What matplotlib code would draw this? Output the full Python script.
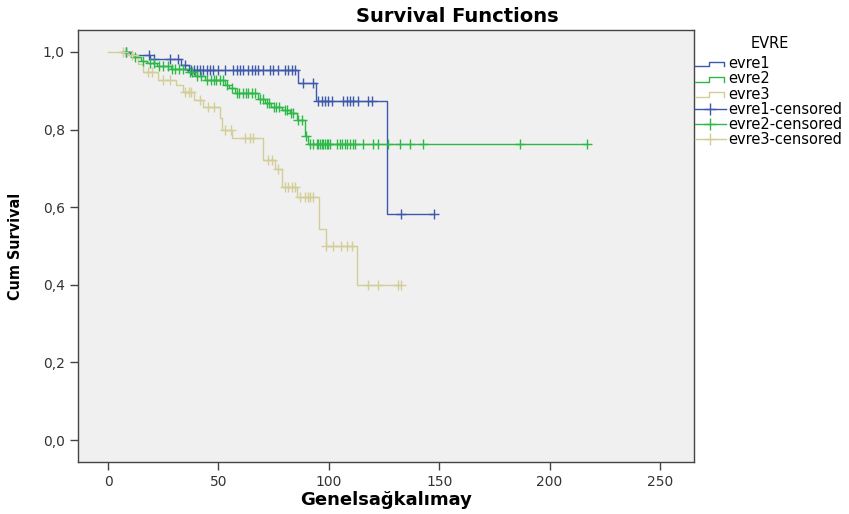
import numpy as np
import matplotlib
matplotlib.use('Agg')
import matplotlib.pyplot as plt
from matplotlib.lines import Line2D
from matplotlib.legend_handler import HandlerBase
from matplotlib.ticker import FuncFormatter

# Kaplan-Meier steps per stage: time of each step and survival after it
evre1_t = [7.5, 10, 19, 33, 36.5, 86, 94.3, 126.5]
evre1_s = [1.0, 0.993, 0.981, 0.966, 0.954, 0.920, 0.873, 0.583]
evre1_cens = [8, 18.5, 21, 28, 31.5, 35, 37.8, 39, 40.1, 41.7, 43, 44.7, 46.2,
              47.6, 49.8, 53, 56.6, 58.3, 59.8, 61.1, 63.4, 65.1, 66.6, 68,
              70.2, 73.3, 74.7, 77, 80.2, 81.5, 83.2, 84.5, 88.3, 92.8, 95.3,
              96.8, 98.3, 99.8, 101.3, 106.6, 108.1, 109.6, 111.1, 113.4,
              117.9, 119.4, 132.7, 147.6]

evre2_t = [7, 11, 15, 17.5, 22, 28.7, 36, 39.4, 44, 53, 55, 57.5, 68, 71, 74,
           79, 82.4, 85.6, 89.2, 90.7]
evre2_s = [1.0, 0.987, 0.978, 0.971, 0.964, 0.955, 0.948, 0.937, 0.928, 0.915,
           0.906, 0.895, 0.880, 0.868, 0.859, 0.850, 0.842, 0.825, 0.784, 0.762]
evre2_cens = [8, 12, 16, 19, 21, 23, 25, 27, 29, 30.5, 32, 34, 37, 38, 40.5,
              42, 45, 46.5, 48, 49, 50.5, 52, 54, 56, 58.5, 59.5, 61, 62.5,
              63.5, 65, 66.5, 69, 70, 72, 73, 75, 76, 77.5, 80, 81, 83, 84, 86,
              88, 89.5, 91.5, 93, 94.5, 95.3, 96, 96.8, 97.5, 98.3, 99, 99.8,
              100.5, 103.6, 105.1, 105.8, 107.4, 108.2, 109.6, 111.1, 111.9,
              115.6, 120.1, 122.4, 126.9, 132.2, 136.8, 142.8, 186.6, 216.8]

evre3_t = [0, 9, 13.5, 16, 22.5, 31, 34, 39, 43, 50.7, 51.8, 56, 70.2, 75.6,
           78.7, 85.8, 95.6, 98.7, 112.6]
evre3_s = [1.0, 0.992, 0.970, 0.949, 0.928, 0.915, 0.898, 0.876, 0.859, 0.830,
           0.800, 0.778, 0.722, 0.698, 0.653, 0.625, 0.543, 0.500, 0.400]
evre3_cens = [7, 11, 18, 20, 25, 28, 35, 36.5, 37.5, 41.7, 45.3, 48, 53, 55.5,
              62, 64.3, 65.7, 72.5, 74.3, 77, 80.2, 81.5, 83.3, 84.7, 87, 89.2,
              90.6, 91.5, 92.9, 98.9, 101.9, 105.4, 108.1, 110.3, 117.8, 122.3,
              131.3, 132.6]

groups = ['evre1', 'evre2', 'evre3']
colors = ['#3E58AC', '#2EB848', '#D3CE97']
x_ticks = [0, 50, 100, 150, 200, 250]
y_ticks = [0.0, 0.2, 0.4, 0.6, 0.8, 1.0]


class StepHandler(HandlerBase):
    # small step glyph for the survival lines in the legend
    def create_artists(self, legend, orig_handle, xdescent, ydescent,
                       width, height, fontsize, trans):
        x = np.array([0, 0.45, 0.45, 0.95, 0.95]) * width - xdescent
        y = np.array([0.15, 0.15, 0.6, 0.6, 0.15]) * height - ydescent
        ln = Line2D(x, y, color=orig_handle.get_color(),
                    lw=orig_handle.get_linewidth())
        ln.set_transform(trans)
        return [ln]


fig = plt.figure(figsize=(8.49, 5.14), dpi=100)
ax = fig.add_axes([78 / 849, 52 / 514, 616 / 849, 432 / 514])
ax.set_facecolor('#F0F0F0')

curves = [(evre1_t, evre1_s, evre1_cens),
          (evre2_t, evre2_s, evre2_cens),
          (evre3_t, evre3_s, evre3_cens)]

for (t, s, cens), c in zip(curves, colors):
    t = np.array(t)
    s = np.array(s)
    end = max(cens)
    ax.step(np.append(t, end), np.append(s, s[-1]), where='post',
            color=c, lw=1.0)

for (t, s, cens), c in zip(curves, colors):
    t = np.array(t)
    s = np.array(s)
    cens = np.array(cens)
    idx = np.searchsorted(t, cens, side='right') - 1
    ax.plot(cens, s[idx], ls='none', marker='+', markersize=7,
            markeredgewidth=1.0, color=c)

ax.set_xlim(-13.6, 265.4)
ax.set_ylim(-0.0567, 1.0567)
ax.set_xticks(x_ticks)
ax.set_yticks(y_ticks)
ax.yaxis.set_major_formatter(FuncFormatter(lambda v, p: f'{v:.1f}'.replace('.', ',')))
ax.tick_params(direction='out', length=6, width=1, color='#444444',
               labelcolor='#333333', labelsize=10)
for sp in ax.spines.values():
    sp.set_color('#444444')
    sp.set_linewidth(1)

ax.set_xlabel('Genelsağkalımay', fontsize=13, fontweight='bold', labelpad=1)
ax.set_ylabel('Cum Survival', fontsize=11.5, fontweight='bold', labelpad=14,
              fontstretch='condensed')
fig.text(457 / 849, 1 - 16 / 514, 'Survival Functions', ha='center',
         va='center', fontsize=14, fontweight='bold')

# legend: survival lines then censored marks
step_handles = [Line2D([], [], color=c, lw=1.0) for c in colors]
cens_handles = [Line2D([], [], color=c, lw=1.0, marker='+', markersize=9,
                       markeredgewidth=1.0) for c in colors]
labels = groups + [g + '-censored' for g in groups]
fig.text(770 / 849, 1 - 44 / 514, 'EVRE', ha='center', va='center',
         fontsize=10.5)
fig.legend(step_handles + cens_handles, labels, loc='upper left',
           bbox_to_anchor=(695 / 849, 1 - 56 / 514), frameon=False,
           fontsize=10.5, handlelength=2.1, handletextpad=0.15,
           labelspacing=0.02, borderaxespad=0, borderpad=0, numpoints=1,
           handler_map={h: StepHandler() for h in step_handles})

fig.savefig('out.png', dpi=100)
